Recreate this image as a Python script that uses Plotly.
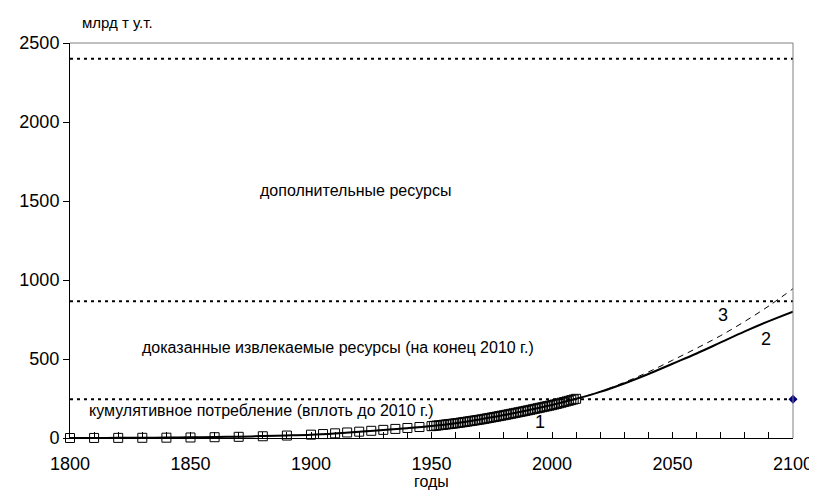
import plotly.graph_objects as go

# ---- data ----
hist_years = [1800, 1810, 1820, 1830, 1840, 1850, 1860, 1870, 1880, 1890,
              1900, 1905, 1910, 1915, 1920, 1925, 1930, 1935, 1940, 1945,
              1950, 1951, 1952, 1953, 1954, 1955, 1956, 1957, 1958, 1959,
              1960, 1961, 1962, 1963, 1964, 1965, 1966, 1967, 1968, 1969,
              1970, 1971, 1972, 1973, 1974, 1975, 1976, 1977, 1978, 1979,
              1980, 1981, 1982, 1983, 1984, 1985, 1986, 1987, 1988, 1989,
              1990, 1991, 1992, 1993, 1994, 1995, 1996, 1997, 1998, 1999,
              2000, 2001, 2002, 2003, 2004, 2005, 2006, 2007, 2008, 2009, 2010]
hist_cum = [0.0, 0.3, 0.7, 1.2, 2.0, 3.2, 5.0, 7.5, 11.0, 15.5,
            21.0, 25.0, 29.5, 35.0, 40.0, 45.5, 51.5, 57.5, 63.5, 69.5,
            75.0, 76.7, 78.4, 80.2, 82.0, 83.8, 85.6, 87.4, 89.2, 91.0,
            92.9, 95.1, 97.3, 99.6, 101.9, 104.2, 106.5, 108.8, 111.2, 113.6,
            116.0, 118.7, 121.4, 124.2, 127.0, 129.8, 132.6, 135.4, 138.3, 141.2,
            144.1, 147.1, 150.1, 153.1, 156.2, 159.3, 162.4, 165.5, 168.6, 171.8,
            175.0, 178.3, 181.6, 184.9, 188.2, 191.5, 194.8, 198.1, 201.4, 204.7,
            208.0, 211.8, 215.6, 219.5, 223.5, 227.5, 231.5, 235.6, 239.7, 243.8, 248.0]

model_years = [1800, 1810, 1820, 1830, 1840, 1850, 1860, 1870, 1880, 1890,
               1900, 1910, 1920, 1930, 1940, 1950, 1960, 1970, 1980, 1990,
               2000, 2010, 2020, 2030, 2040, 2050, 2060, 2070, 2080, 2090, 2100]
model_cum = [0, 0.5, 1, 1.5, 2.5, 4, 6, 8.5, 12, 16,
             21, 29, 39, 50, 62, 76, 94, 117, 145, 176,
             209, 248, 292, 345, 405, 470, 535, 605, 675, 740, 800]

alt_years = [2010, 2020, 2030, 2040, 2050, 2060, 2070, 2080, 2090, 2100]
alt_cum = [248, 294, 352, 418, 492, 568, 648, 738, 836, 945]

x_range = [1800, 2100]
level_cumulative = 245
level_proved = 865
level_additional = 2400

point_year = [2100]
point_value = [245]

tick_years = [1800, 1850, 1900, 1950, 2000, 2050, 2100]
tick_vals_y = [0, 500, 1000, 1500, 2000, 2500]

FONT = "Liberation Sans, Arial, sans-serif"

fig = go.Figure()

dot_style = dict(color="black", width=2, dash="3px,4px")
for lvl in (level_additional, level_proved, level_cumulative):
    fig.add_trace(go.Scatter(x=x_range, y=[lvl, lvl], mode="lines",
                             line=dot_style, hoverinfo="skip"))

fig.add_trace(go.Scatter(x=hist_years, y=hist_cum, mode="lines+markers",
                         line=dict(color="#808080", width=1),
                         marker=dict(symbol="square-open", size=9,
                                     color="black", line=dict(width=1)),
                         cliponaxis=False))
fig.add_trace(go.Scatter(x=model_years, y=model_cum, mode="lines",
                         line=dict(color="black", width=2, shape="spline")))
fig.add_trace(go.Scatter(x=alt_years, y=alt_cum, mode="lines",
                         line=dict(color="black", width=1, dash="6px,5px",
                                   shape="spline")))
fig.add_trace(go.Scatter(x=point_year, y=point_value, mode="markers",
                         marker=dict(symbol="diamond", size=7, color="#000080"),
                         cliponaxis=False))

ann_font = dict(family=FONT, size=16, color="black")
num_font = dict(family=FONT, size=18, color="black")
annotations = [
    dict(x=1877.8, y=1565, text="дополнительные ресурсы", xanchor="left",
         yanchor="middle", font=ann_font),
    dict(x=1829, y=570, text="доказанные извлекаемые ресурсы (на конец 2010 г.)",
         xanchor="left", yanchor="middle", font=ann_font),
    dict(x=1807, y=177, text="кумулятивное потребление (вплоть до 2010 г.)",
         xanchor="left", yanchor="middle", font=ann_font),
    dict(x=1995.2, y=103, text="1", font=num_font),
    dict(x=2089, y=625, text="2", font=num_font),
    dict(x=2071.1, y=778, text="3", font=num_font),
]
for a in annotations:
    a.update(xref="x", yref="y", showarrow=False)
annotations.append(dict(x=10 / 723, y=1 + 20 / 395, xref="paper", yref="paper",
                        xanchor="left", yanchor="middle", text="млрд т у.т.",
                        showarrow=False, font=dict(family=FONT, size=15)))
annotations.append(dict(x=0.5, y=-44 / 395, xref="paper", yref="paper",
                        xanchor="center", yanchor="middle", text="годы",
                        showarrow=False, font=dict(family=FONT, size=16)))

# page body adds an 8px offset; margins compensate so the plot sits where the reference's does
fig.update_layout(
    width=809, height=483,
    margin=dict(l=62, r=24, t=35, b=53),
    paper_bgcolor="white", plot_bgcolor="white",
    showlegend=False,
    font=dict(family=FONT, size=18, color="black"),
    annotations=annotations,
    shapes=[
        dict(type="line", xref="paper", yref="paper", x0=0, x1=1, y0=1, y1=1,
             line=dict(color="#808080", width=1)),
        dict(type="line", xref="paper", yref="paper", x0=1, x1=1, y0=0, y1=1,
             line=dict(color="#808080", width=1)),
    ],
)
fig.update_xaxes(range=x_range, tickvals=tick_years, showgrid=False,
                 zeroline=False, showline=True, linecolor="black", linewidth=1,
                 ticks="inside", ticklen=6, tickcolor="black",
                 minor=dict(dtick=10, ticks="inside", ticklen=6, tickcolor="black",
                            showgrid=False),
                 ticklabelstandoff=9, automargin=False,
                 tickfont=dict(family=FONT, size=18))
fig.update_yaxes(range=[0, 2500], tickvals=tick_vals_y, showgrid=False,
                 zeroline=False, showline=True, linecolor="black", linewidth=1,
                 ticks="outside", ticklen=6, tickcolor="black", automargin=False,
                 tickfont=dict(family=FONT, size=18))

fig.write_html("out.html")
